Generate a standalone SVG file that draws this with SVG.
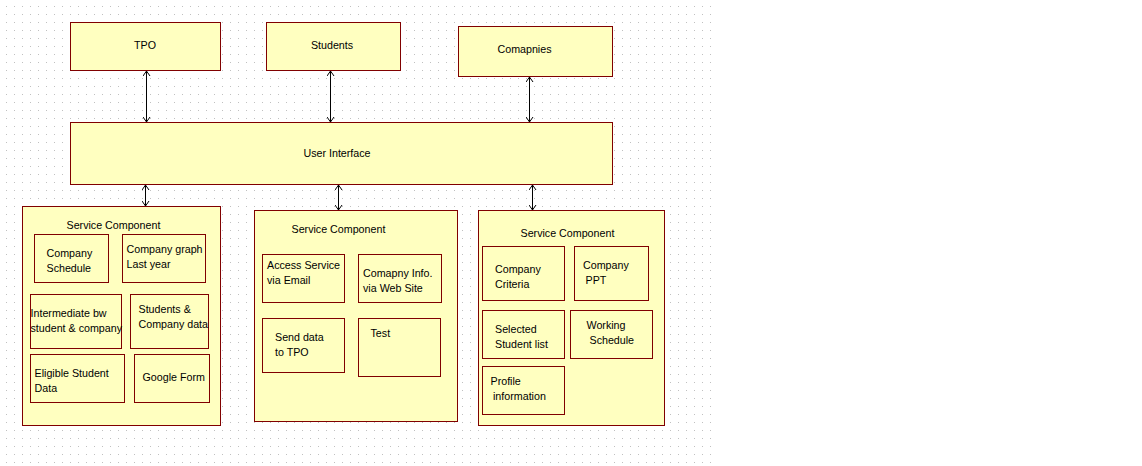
<svg xmlns="http://www.w3.org/2000/svg" width="1142" height="466" viewBox="0 0 1142 466">
<style>
.box{fill:#FFFFC0;stroke:#800000;stroke-width:1}
.t{font-family:"Liberation Sans",Arial,sans-serif;font-size:10.7px;fill:#000}
.c{text-anchor:middle}
.conn{stroke:#000;stroke-width:1;fill:none;marker-start:url(#ah);marker-end:url(#ah)}
</style>
<defs>
<pattern id="grid" x="6" y="6" width="8" height="8" patternUnits="userSpaceOnUse">
<rect x="0" y="0" width="1" height="1" fill="#C0C0C0"/>
</pattern>
<marker id="ah" viewBox="0 0 8 8" refX="6" refY="4" markerWidth="8" markerHeight="8" markerUnits="userSpaceOnUse" orient="auto-start-reverse">
<path d="M1,0.5 L6,4 L1,7.5" fill="none" stroke="#000" stroke-width="1"/>
</marker>
</defs>
<rect width="1142" height="466" fill="#fff"/>
<rect x="6" y="6" width="705" height="457" fill="url(#grid)"/>

<g id="tpo"><rect class="box" x="70.5" y="22.5" width="150" height="48"/><text class="t c" x="145" y="49">TPO</text></g>
<g id="students"><rect class="box" x="266.5" y="22.5" width="134" height="48"/><text class="t c" x="332" y="49">Students</text></g>
<g id="companies"><rect class="box" x="458.5" y="26.5" width="154" height="50"/><text class="t c" x="524.5" y="53">Comapnies</text></g>
<g id="ui"><rect class="box" x="70.5" y="122.5" width="542" height="62"/><text class="t c" x="337" y="157">User Interface</text></g>

<g id="connectors">
<line class="conn" x1="146.5" y1="71" x2="146.5" y2="122"/>
<line class="conn" x1="330.5" y1="71" x2="330.5" y2="122"/>
<line class="conn" x1="529.5" y1="77" x2="529.5" y2="122"/>
<line class="conn" x1="145.5" y1="185" x2="145.5" y2="206"/>
<line class="conn" x1="338.5" y1="185" x2="338.5" y2="210"/>
<line class="conn" x1="532.5" y1="185" x2="532.5" y2="210"/>
</g>

<g id="sc1">
<rect class="box" x="22.5" y="206.5" width="198" height="219"/>
<text class="t" x="66.5" y="229">Service Component</text>
</g>
<g id="company-schedule"><rect class="box" x="34.5" y="234.5" width="74" height="48"/><text class="t" x="46.5" y="257">Company</text><text class="t" x="46.5" y="272">Schedule</text></g>
<g id="company-graph"><rect class="box" x="122.5" y="234.5" width="83" height="48"/><text class="t" x="126.5" y="253">Company graph</text><text class="t" x="126.5" y="268">Last year</text></g>
<g id="intermediate"><rect class="box" x="30.5" y="294.5" width="91" height="54"/><text class="t" x="30.5" y="316.5">Intermediate bw</text><text class="t" x="30.5" y="331.5">student &amp; company</text></g>
<g id="students-company-data"><rect class="box" x="130.5" y="294.5" width="78" height="54"/><text class="t" x="138.5" y="313">Students &amp;</text><text class="t" x="138.5" y="328">Company data</text></g>
<g id="eligible"><rect class="box" x="30.5" y="354.5" width="94" height="48"/><text class="t" x="34.5" y="377">Eligible Student</text><text class="t" x="34.5" y="392">Data</text></g>
<g id="google-form"><rect class="box" x="134.5" y="354.5" width="75" height="48"/><text class="t" x="142.5" y="380.5">Google Form</text></g>

<g id="sc2">
<rect class="box" x="254.5" y="210.5" width="203" height="211"/>
<text class="t" x="291.5" y="233">Service Component</text>
</g>
<g id="access-service"><rect class="box" x="262.5" y="254.5" width="82" height="48"/><text class="t" x="267" y="269">Access Service</text><text class="t" x="267" y="284">via Email</text></g>
<g id="company-info"><rect class="box" x="358.5" y="254.5" width="83" height="48"/><text class="t" x="363" y="276.5">Comapny Info.</text><text class="t" x="363" y="291.5">via Web Site</text></g>
<g id="send-data"><rect class="box" x="262.5" y="318.5" width="82" height="54"/><text class="t" x="275" y="341">Send data</text><text class="t" x="275" y="356">to TPO</text></g>
<g id="test"><rect class="box" x="358.5" y="318.5" width="82" height="58"/><text class="t" x="370.5" y="337">Test</text></g>

<g id="sc3">
<rect class="box" x="478.5" y="210.5" width="186" height="215"/>
<text class="t" x="520.5" y="237">Service Component</text>
</g>
<g id="company-criteria"><rect class="box" x="482.5" y="246.5" width="82" height="54"/><text class="t" x="495" y="273">Company</text><text class="t" x="495" y="288">Criteria</text></g>
<g id="company-ppt"><rect class="box" x="574.5" y="246.5" width="74" height="54"/><text class="t" x="583" y="269">Company</text><text class="t" x="585.5" y="284">PPT</text></g>
<g id="selected-student"><rect class="box" x="482.5" y="310.5" width="82" height="48"/><text class="t" x="495" y="332.5">Selected</text><text class="t" x="495" y="347.5">Student list</text></g>
<g id="working-schedule"><rect class="box" x="570.5" y="310.5" width="82" height="48"/><text class="t" x="586.5" y="329">Working</text><text class="t" x="589.5" y="344">Schedule</text></g>
<g id="profile"><rect class="box" x="482.5" y="366.5" width="82" height="48"/><text class="t" x="490.5" y="385">Profile</text><text class="t" x="493" y="400">information</text></g>
</svg>
